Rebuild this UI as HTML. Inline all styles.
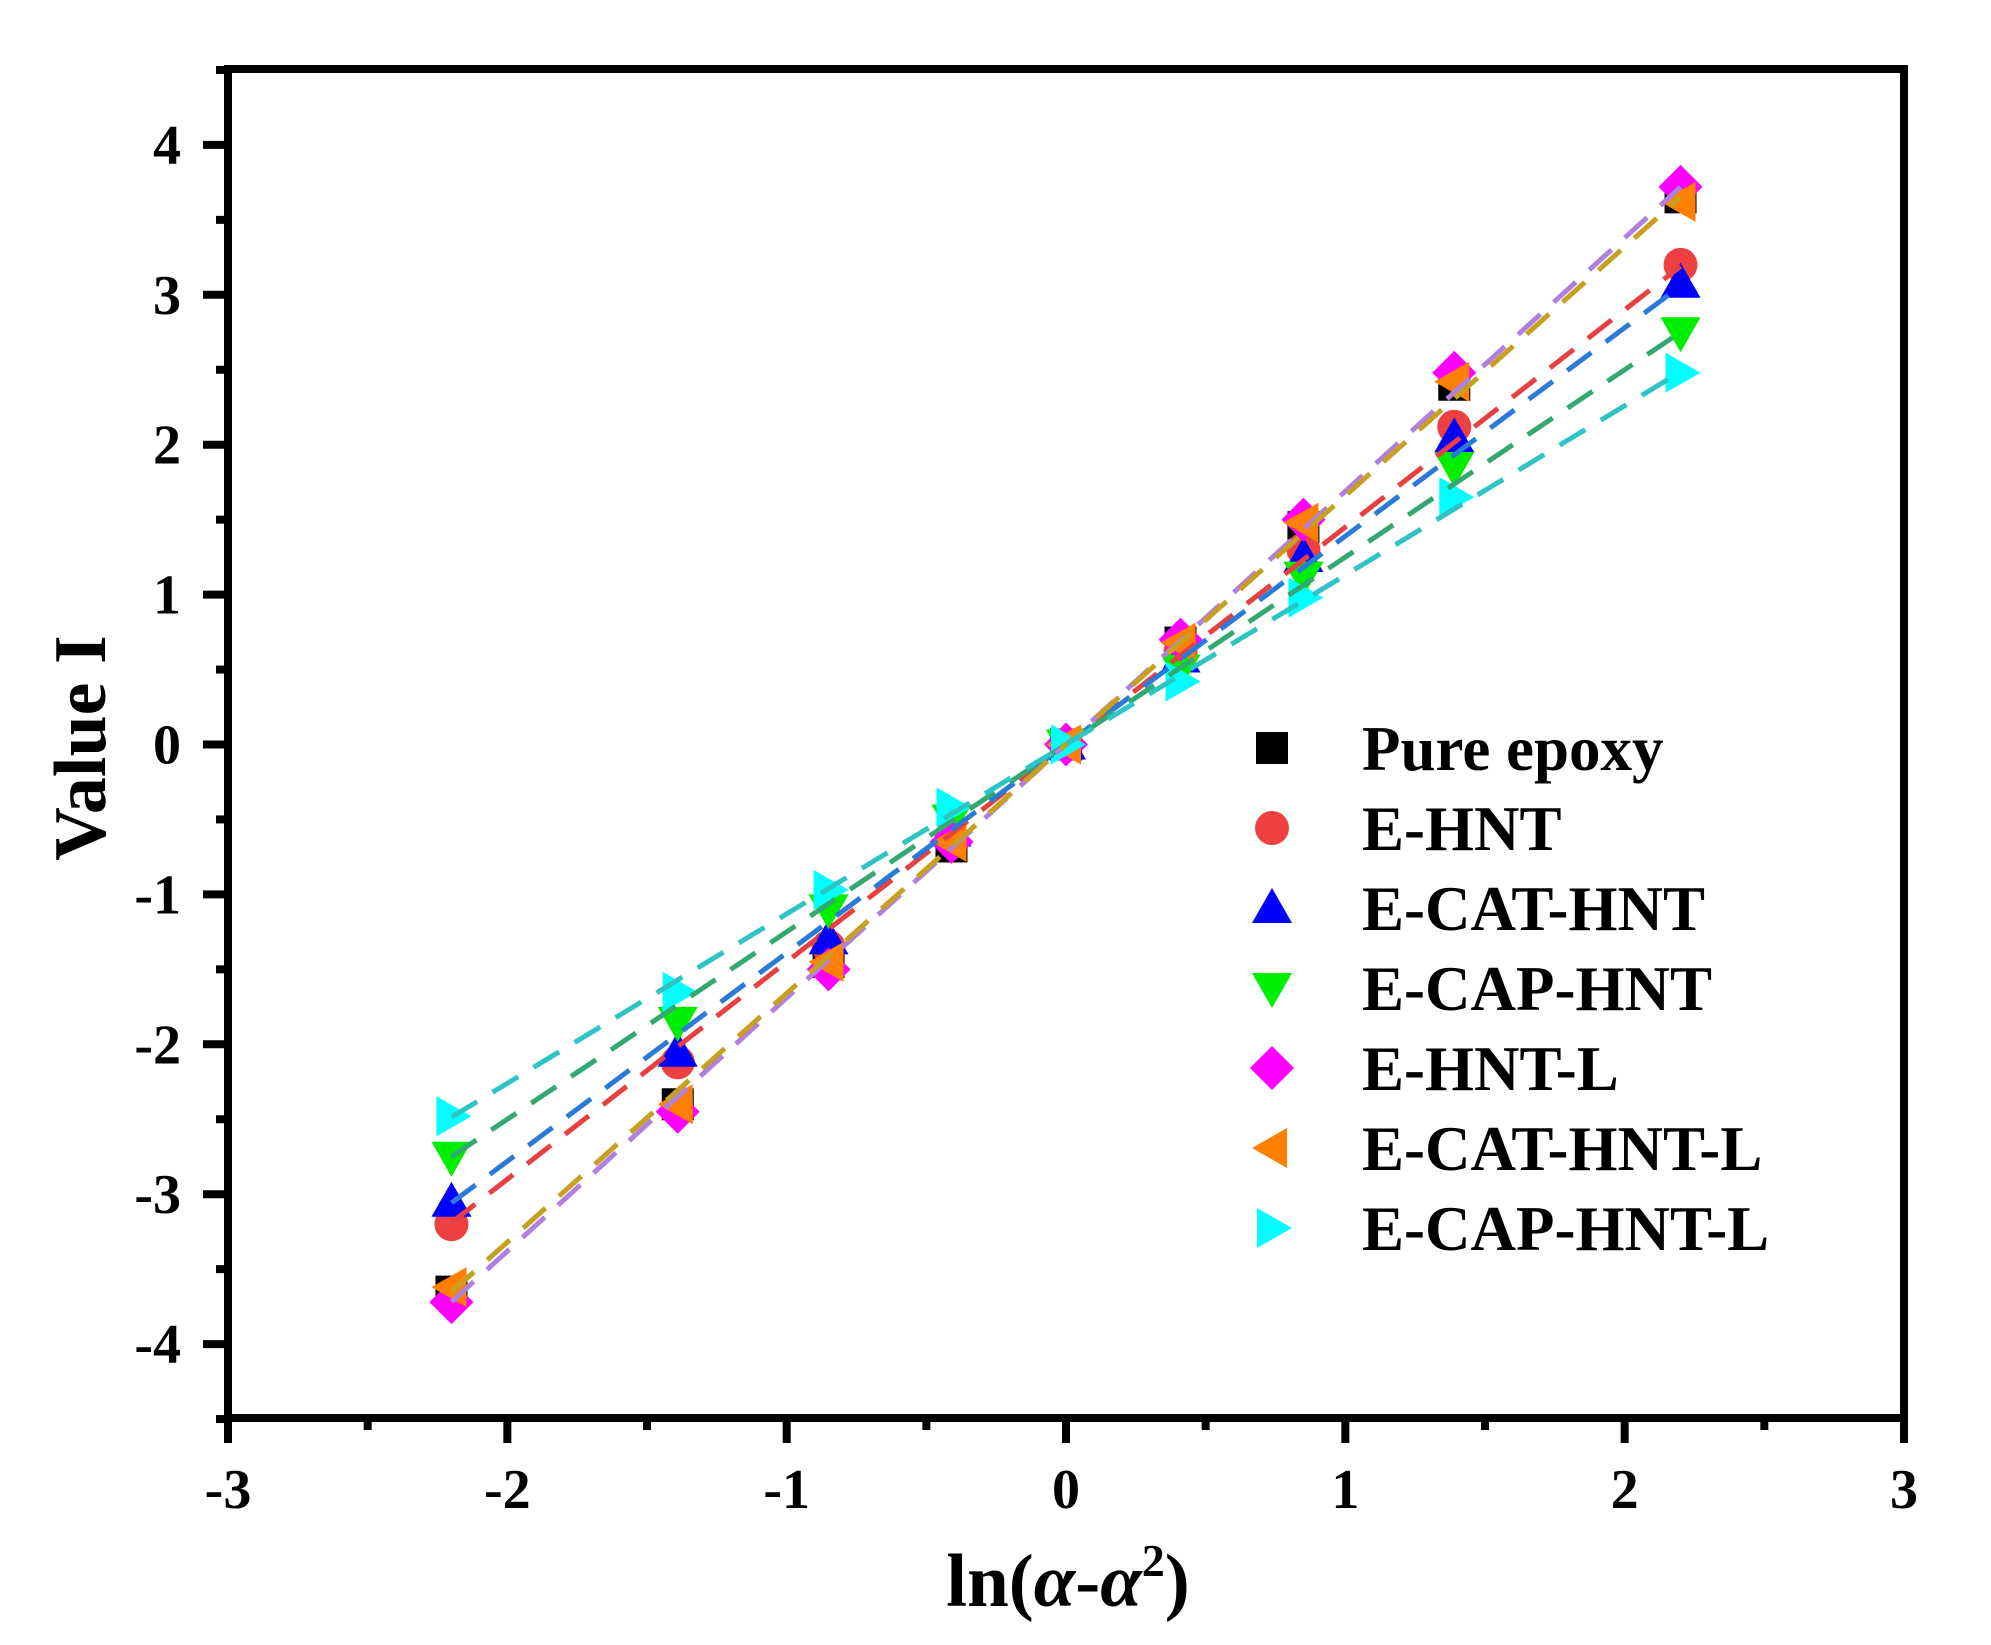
<!DOCTYPE html>
<html><head><meta charset="utf-8"><style>
html,body{margin:0;padding:0;background:#fff;width:1991px;height:1645px;overflow:hidden}
svg text{font-family:"Liberation Serif",serif;font-weight:bold;fill:#000}
</style></head><body>
<svg id="s" width="1991" height="1645" viewBox="0 0 1991 1645" xmlns="http://www.w3.org/2000/svg">
<rect width="1991" height="1645" fill="#fff"/>
<g id="ticks"></g>
<g id="marks"></g>
<g id="lines"></g>
<rect x="228" y="69" width="1676" height="1349" fill="none" stroke="#000" stroke-width="8"/>
<g id="legend"></g>
<text x="0" y="0" font-size="74" text-anchor="middle" transform="translate(105,748) rotate(-90)">Value I</text>
<text x="1068" y="1606" font-size="75" text-anchor="middle">ln(<tspan font-style="italic">α</tspan>-<tspan font-style="italic">α</tspan><tspan font-size="46" dy="-30">2</tspan><tspan dy="30">)</tspan></text>
</svg>
<script>
const NS="http://www.w3.org/2000/svg";
function el(p,t,a,txt){const e=document.createElementNS(NS,t);for(const k in a)e.setAttribute(k,a[k]);if(txt!==undefined)e.textContent=txt;document.getElementById(p).appendChild(e);return e;}
const X=v=>1066+v*279.33, Y=v=>744.5-v*149.9;
for(let v=-3;v<=3;v+=0.5){const x=X(v);const maj=Number.isInteger(v);
 el('ticks','line',{x1:x,x2:x,y1:1418,y2:1418+(maj?25:12),stroke:'#000','stroke-width':8});
 if(maj)el('ticks','text',{x:x,y:1508,'font-size':56,'text-anchor':'middle'},v);}
for(let v=-4.5;v<=4.5;v+=0.5){const y=Y(v);const maj=Number.isInteger(v);
 el('ticks','line',{x1:228,x2:228-(maj?25:12),y1:y,y2:y,stroke:'#000','stroke-width':8});
 if(maj)el('ticks','text',{x:181,y:y+19,'font-size':56,'text-anchor':'end'},v);}
const xs=[-2.2,-1.39,-0.85,-0.41,0,0.41,0.85,1.39,2.2];
const S=[
 {n:'Pure epoxy',c:'#000',m:'sq',d:[-3.65,-2.4,-1.45,-0.68,0,0.68,1.45,2.4,3.65],lc:'#555',k:1.67},
 {n:'E-HNT',c:'#ee4040',m:'ci',d:[-3.2,-2.12,-1.35,-0.62,0,0.62,1.3,2.12,3.2],lc:'#e84040',k:1.45},
 {n:'E-CAT-HNT',c:'#0000ff',m:'tu',d:[-3.05,-2.05,-1.3,-0.58,0,0.58,1.25,2.05,3.08],lc:'#2a7ad8',k:1.39},
 {n:'E-CAP-HNT',c:'#00ee00',m:'td',d:[-2.75,-1.85,-1.1,-0.5,0,0.5,1.12,1.85,2.75],lc:'#33a870',k:1.25},
 {n:'E-HNT-L',c:'#ff00ff',m:'di',d:[-3.72,-2.45,-1.5,-0.65,0,0.7,1.5,2.48,3.72],lc:'#b080e0',k:1.69},
 {n:'E-CAT-HNT-L',c:'#ff8000',m:'tl',d:[-3.62,-2.4,-1.45,-0.65,0,0.68,1.48,2.42,3.62],lc:'#c8a020',k:1.66},
 {n:'E-CAP-HNT-L',c:'#00ffff',m:'tr',d:[-2.48,-1.65,-0.97,-0.42,0,0.42,0.98,1.65,2.48],lc:'#2ec4c4',k:1.13}];
function mk(p,m,x,y,c){
 if(m=='sq')el(p,'rect',{x:x-16,y:y-16,width:32,height:32,fill:c});
 else if(m=='ci')el(p,'circle',{cx:x,cy:y,r:17,fill:c});
 else if(m=='tu')el(p,'polygon',{points:`${x},${y-20} ${x+20},${y+15} ${x-20},${y+15}`,fill:c});
 else if(m=='td')el(p,'polygon',{points:`${x},${y+20} ${x+20},${y-15} ${x-20},${y-15}`,fill:c});
 else if(m=='di')el(p,'polygon',{points:`${x},${y-22} ${x+22},${y} ${x},${y+22} ${x-22},${y}`,fill:c});
 else if(m=='tl')el(p,'polygon',{points:`${x-20},${y} ${x+15},${y-20} ${x+15},${y+20}`,fill:c});
 else if(m=='tr')el(p,'polygon',{points:`${x+20},${y} ${x-15},${y-20} ${x-15},${y+20}`,fill:c});}
S.forEach(s=>{xs.forEach((x,i)=>mk('marks',s.m,X(x),Y(s.d[i]),s.c));});
S.forEach((s,i)=>{if(i==0)return;el('lines','line',{x1:X(-2.2),y1:Y(-2.2*s.k),x2:X(2.2),y2:Y(2.2*s.k),stroke:s.lc,'stroke-width':5,'stroke-dasharray':'30 18'});});
S.forEach((s,i)=>{const y=748+i*80;mk('legend',s.m,1272,y,s.c);
 el('legend','text',{x:1362,y:y+22,'font-size':63},s.n);});
</script>
</body></html>
